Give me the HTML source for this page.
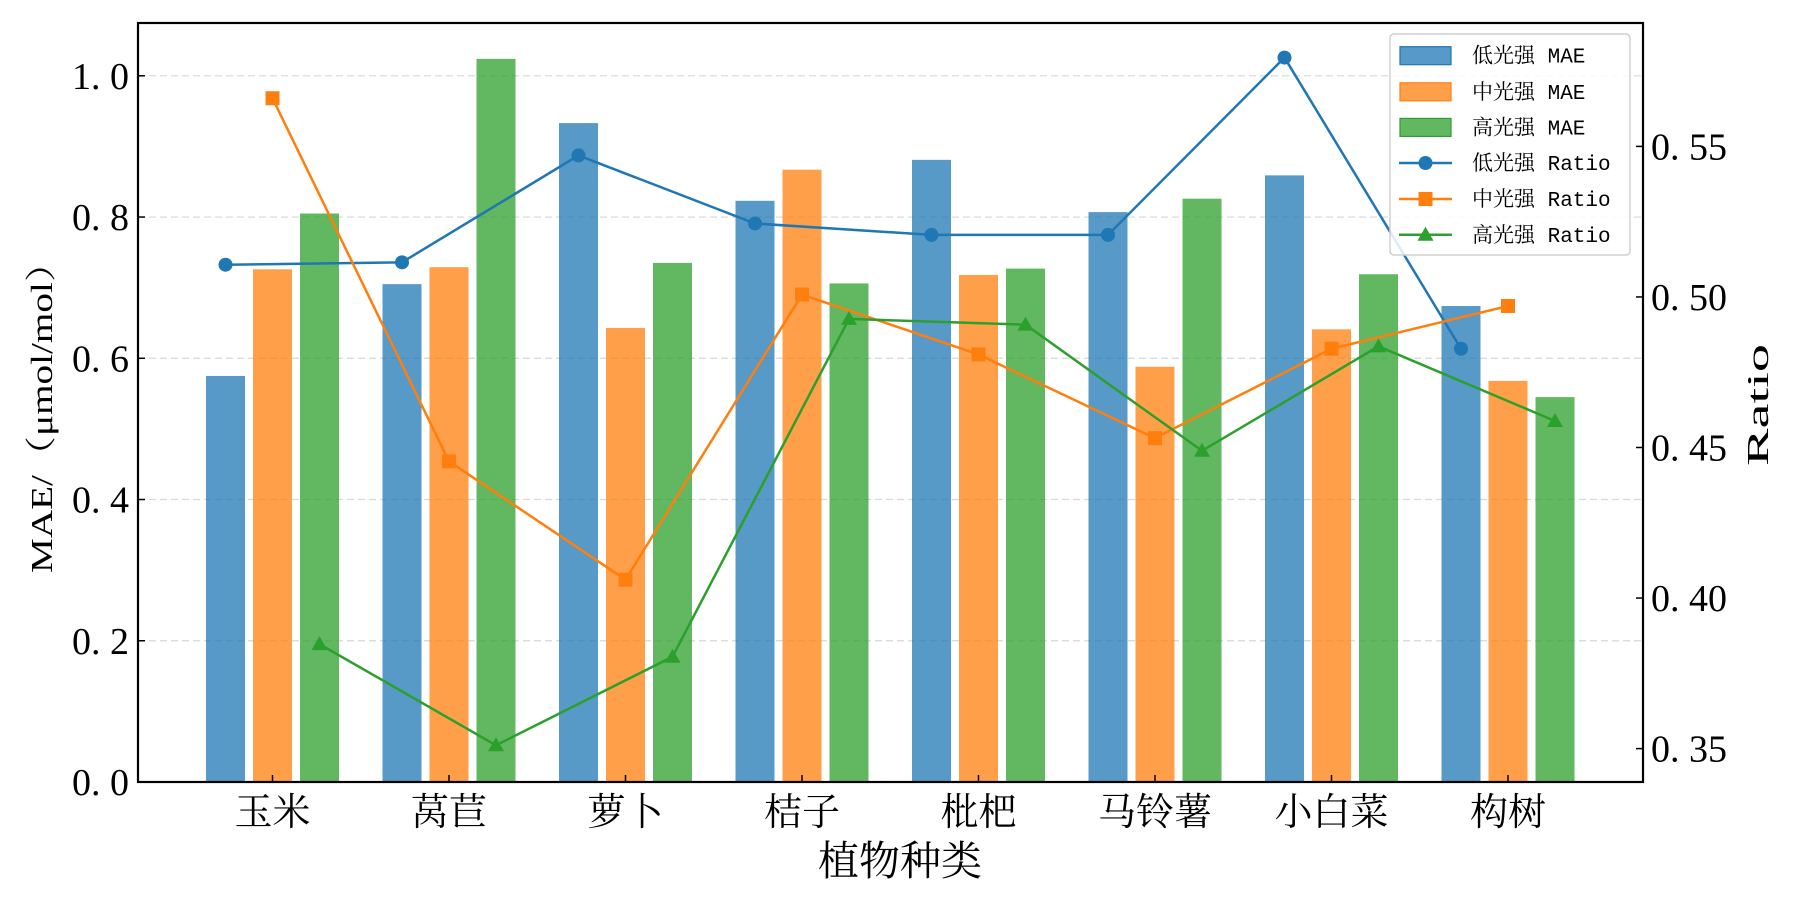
<!DOCTYPE html>
<html><head><meta charset="utf-8">
<style>
html,body{margin:0;padding:0;background:#fff;}
svg text{font-family:"Liberation Serif","Noto Serif CJK SC",serif;fill:#000;}
</style></head>
<body>
<svg id="s" width="1800" height="900" xmlns="http://www.w3.org/2000/svg"></svg>
<script>
const s=document.getElementById('s');
const L=138,R=1643,T=23,B=782;
const yl=v=>B-706.2*v, yr=r=>748.6-(r-0.35)*3011;
const cx=i=>272.5+176.5*i;
let h='';
for(const v of [0.2,0.4,0.6,0.8,1.0]) h+=`<line x1="${L}" x2="${R}" y1="${yl(v)}" y2="${yl(v)}" stroke="#d8d8d8" stroke-width="1.2" stroke-dasharray="7,4"/>`;
const cats=['玉米','莴苣','萝卜','桔子','枇杷','马铃薯','小白菜','构树'];
const mae=[[0.575,0.705,0.933,0.823,0.881,0.807,0.859,0.674],
[0.726,0.729,0.643,0.867,0.718,0.588,0.641,0.568],
[0.805,1.024,0.735,0.706,0.727,0.826,0.719,0.545]];
const rat=[[0.5107,0.5115,0.547,0.5244,0.5206,0.5206,0.5795,0.4828],
[0.566,0.4454,0.4061,0.5008,0.4809,0.4531,0.4828,0.497],
[0.3847,0.3511,0.3805,0.4927,0.4908,0.4489,0.4836,0.4588]];
const col=['#1f77b4','#ff7f0e','#2ca02c'];
const off=[-47,0,47];
for(let k=0;k<3;k++)for(let i=0;i<8;i++){
 const y=yl(mae[k][i]);
 h+=`<rect x="${cx(i)+off[k]-19.5}" y="${y}" width="39" height="${B-y}" fill="${col[k]}" fill-opacity="0.75"/>`;
}
function mk(k,x,y){
 if(k==0) return `<circle cx="${x}" cy="${y}" r="7" fill="${col[0]}"/>`;
 if(k==1) return `<rect x="${x-7}" y="${y-7}" width="14" height="14" fill="${col[1]}"/>`;
 return `<polygon points="${x},${y-8} ${x+8},${y+6} ${x-8},${y+6}" fill="${col[2]}"/>`;
}
for(let k=0;k<3;k++){
 let p=[];for(let i=0;i<8;i++)p.push(`${cx(i)+off[k]},${yr(rat[k][i])}`);
 h+=`<polyline points="${p.join(' ')}" fill="none" stroke="${col[k]}" stroke-width="2.5"/>`;
 for(let i=0;i<8;i++)h+=mk(k,cx(i)+off[k],yr(rat[k][i]));
}
h+=`<rect x="${L}" y="${T}" width="${R-L}" height="${B-T}" fill="none" stroke="#000" stroke-width="2.2"/>`;
for(const v of [0,0.2,0.4,0.6,0.8,1.0]){
 const y=yl(v);
 h+=`<line x1="${L}" x2="${L+7}" y1="${y}" y2="${y}" stroke="#000" stroke-width="1.5"/>`;
 h+=`<text x="129" y="${y+13}" font-size="38" text-anchor="end">${v.toFixed(1).replace('.','.\u00a0')}</text>`;
}
for(const r of [0.35,0.40,0.45,0.50,0.55]){
 const y=yr(r);
 h+=`<line x1="${R-7}" x2="${R}" y1="${y}" y2="${y}" stroke="#000" stroke-width="1.5"/>`;
 h+=`<text x="1651" y="${y+13}" font-size="38">${r.toFixed(2).replace('.','.\u00a0')}</text>`;
}
for(let i=0;i<8;i++){
 h+=`<line x1="${cx(i)}" x2="${cx(i)}" y1="${B-7}" y2="${B}" stroke="#000" stroke-width="1.5"/>`;
 h+=`<text x="${cx(i)}" y="825" font-size="38" text-anchor="middle">${cats[i]}</text>`;
}
h+=`<text x="900" y="875" font-size="41" text-anchor="middle">植物种类</text>`;
h+=`<text transform="translate(52,408) rotate(-90)" font-size="31" text-anchor="middle" textLength="330" lengthAdjust="spacingAndGlyphs">MAE/（μmol/mol）</text>`;
h+=`<text transform="translate(1768,405) rotate(-90)" font-size="31" text-anchor="middle" textLength="122" lengthAdjust="spacingAndGlyphs">Ratio</text>`;
h+=`<rect x="1390" y="34" width="240" height="221" rx="4" fill="#fff" fill-opacity="0.85" stroke="#d0d0d0" stroke-width="1.5"/>`;
const labs=['低光强 MAE','中光强 MAE','高光强 MAE','低光强 Ratio','中光强 Ratio','高光强 Ratio'];
const ry=[55.7,91.8,127.4,163,199,234.8];
for(let j=0;j<6;j++){
 const y=ry[j];
 if(j<3) h+=`<rect x="1400" y="${y-9}" width="51" height="18" fill="${col[j]}" fill-opacity="0.75" stroke="${col[j]}" stroke-width="1.2"/>`;
 else {h+=`<line x1="1399" x2="1452" y1="${y}" y2="${y}" stroke="${col[j-3]}" stroke-width="2.5"/>`+mk(j-3,1425.5,y);}
 h+=`<text x="1472" y="${y+7}" font-size="21" style="font-family:'Liberation Mono','Noto Serif CJK SC',monospace" xml:space="preserve">${labs[j]}</text>`;
}
s.innerHTML=h;
</script>
</body></html>
